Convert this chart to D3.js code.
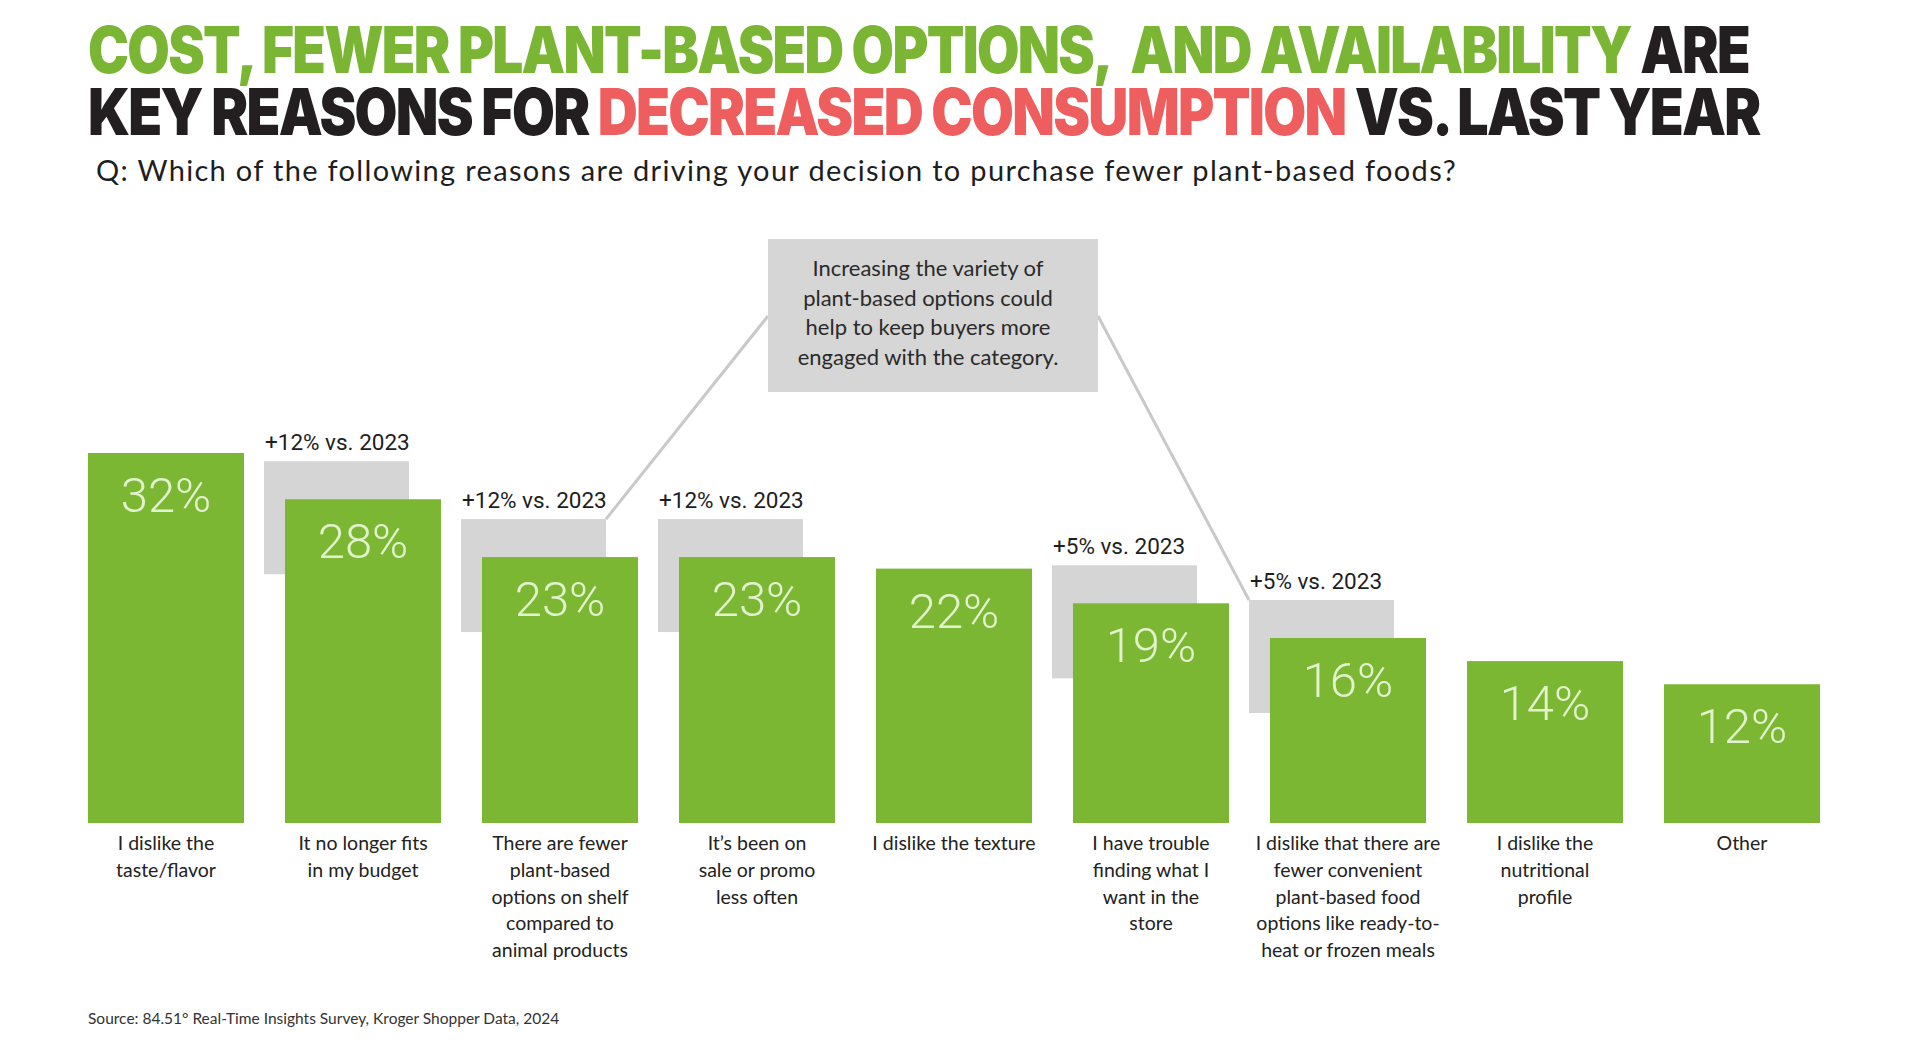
<!DOCTYPE html>
<html>
<head>
<meta charset="utf-8">
<script src="https://cdn.jsdelivr.net/npm/d3@7"></script>
<style>
  html, body { margin: 0; padding: 0; background: #ffffff; }
  svg { display: block; }
</style>
</head>
<body>
<svg id="chart" width="1920" height="1058"></svg>
<script>
// ---------- DATA ----------
const categories = [
  ["I dislike the", "taste/flavor"],
  ["It no longer fits", "in my budget"],
  ["There are fewer", "plant-based", "options on shelf", "compared to", "animal products"],
  ["It\u2019s been on", "sale or promo", "less often"],
  ["I dislike the texture"],
  ["I have trouble", "finding what I", "want in the", "store"],
  ["I dislike that there are", "fewer convenient", "plant-based food", "options like ready-to-", "heat or frozen meals"],
  ["I dislike the", "nutritional", "profile"],
  ["Other"]
];
const values = [32, 28, 23, 23, 22, 19, 16, 14, 12];
const changeLabels = [null, "+12% vs. 2023", "+12% vs. 2023", "+12% vs. 2023", null, "+5% vs. 2023", "+5% vs. 2023", null, null];
const titleLine1 = [
  {t: "COST, FEWER PLANT-BASED OPTIONS,\u00a0 AND AVAILABILITY", c: "green"},
  {t: " ARE", c: "dark"}
];
const titleLine2 = [
  {t: "KEY REASONS FOR ", c: "dark"},
  {t: "DECREASED CONSUMPTION", c: "red"},
  {t: " VS. LAST YEAR", c: "dark"}
];
const subtitle = "Q: Which of the following reasons are driving your decision to purchase fewer plant-based foods?";
const calloutLines = ["Increasing the variety of", "plant-based options could", "help to keep buyers more", "engaged with the category."];
const calloutFrom = 2;  // bar index linked on the left
const calloutTo = 6;    // bar index linked on the right
const source = "Source: 84.51\u00b0 Real-Time Insights Survey, Kroger Shopper Data, 2024";

// ---------- STYLE ----------
const colors = { green: "#7ab534", dark: "#231f20", red: "#ef5e5e", bar: "#7cb734", shadow: "#d5d5d5", pct: "#e2f2cc", line: "#c9c9c9" };

const svg = d3.select("#chart");
const idx = d3.range(values.length);

const x = d3.scaleBand().domain(idx).range([88, 1820]).paddingInner(0.208).paddingOuter(0);
const y = d3.scaleLinear().domain([0, 32]).range([823, 453]);

// ---------- TITLE ----------
function fitScale(sel, target) {
  const w = sel.node().getComputedTextLength();
  const x0 = +sel.attr("x");
  sel.attr("transform", `translate(${x0},0) scale(${target / w},1) translate(${-x0},0)`);
}
function fitSpacing(sel, target) {
  const n = sel.text().length;
  const w = sel.node().getComputedTextLength();
  sel.attr("letter-spacing", (target - w) / n);
}
function titleLine(parts, yPos, target) {
  const t = svg.append("text").attr("x", 88).attr("y", yPos)
    .attr("font-family", "Inter, 'DejaVu Sans', sans-serif")
    .attr("font-weight", 900).attr("font-size", 64).attr("letter-spacing", -2);
  t.selectAll("tspan").data(parts).join("tspan")
    .attr("fill", d => colors[d.c]).text(d => d.t);
  fitScale(t, target);
}
titleLine(titleLine1, 73, 1661);
titleLine(titleLine2, 135, 1672);

const sub = svg.append("text").attr("x", 96).attr("y", 181)
  .attr("font-family", "Lato, 'Open Sans', sans-serif").attr("font-size", 29)
  .attr("fill", "#1e1e1e").text(subtitle);
fitSpacing(sub, 1361);

// ---------- SHADOW BOXES + CHANGE LABELS ----------
const shadowDX = -21, shadowW = 145, shadowDY = -38, shadowH = 113;
const withChange = idx.filter(i => changeLabels[i]);

svg.append("g").selectAll("rect").data(withChange).join("rect")
  .attr("x", i => x(i) + shadowDX)
  .attr("y", i => y(values[i]) + shadowDY)
  .attr("width", shadowW).attr("height", shadowH)
  .attr("fill", colors.shadow);

svg.append("g").selectAll("text").data(withChange).join("text")
  .attr("x", i => x(i) + shadowDX + 1)
  .attr("y", i => y(values[i]) + shadowDY - 11)
  .attr("font-family", "Roboto, 'Liberation Sans', sans-serif")
  .attr("font-size", 22.5).attr("fill", "#1e1e1e")
  .text(i => changeLabels[i]);

// ---------- CALLOUT ----------
const box = { x: 768, y: 239, w: 330, h: 153 };
const lineY = 316;
svg.append("line")
  .attr("x1", box.x).attr("y1", lineY)
  .attr("x2", x(calloutFrom) + shadowDX + shadowW).attr("y2", y(values[calloutFrom]) + shadowDY)
  .attr("stroke", colors.line).attr("stroke-width", 3);
svg.append("line")
  .attr("x1", box.x + box.w).attr("y1", lineY)
  .attr("x2", x(calloutTo) + shadowDX).attr("y2", y(values[calloutTo]) + shadowDY)
  .attr("stroke", colors.line).attr("stroke-width", 3);
svg.append("rect").attr("x", box.x).attr("y", box.y).attr("width", box.w).attr("height", box.h)
  .attr("fill", "#d6d6d6");
svg.append("text").attr("text-anchor", "middle")
  .attr("font-family", "Lato, 'Open Sans', sans-serif").attr("font-size", 22).attr("fill", "#2a2a2a")
  .selectAll("tspan").data(calloutLines).join("tspan")
  .attr("x", box.x + box.w / 2 - 5).attr("y", (d, i) => 276 + i * 29.5).text(d => d);

// ---------- BARS ----------
svg.append("g").selectAll("rect").data(idx).join("rect")
  .attr("x", i => x(i)).attr("y", i => y(values[i]))
  .attr("width", x.bandwidth()).attr("height", i => y(0) - y(values[i]))
  .attr("fill", colors.bar);

svg.append("g").selectAll("text").data(idx).join("text")
  .attr("x", i => x(i) + x.bandwidth() / 2)
  .attr("y", i => y(values[i]) + 59)
  .attr("text-anchor", "middle")
  .attr("font-family", "Roboto, 'Liberation Sans', sans-serif").attr("font-weight", 300)
  .attr("font-size", 49).attr("fill", colors.pct)
  .text(i => values[i] + "%");

// ---------- CATEGORY LABELS ----------
const labG = svg.append("g")
  .attr("font-family", "Lato, 'Open Sans', sans-serif").attr("font-size", 19.5)
  .attr("fill", "#222").attr("text-anchor", "middle");
idx.forEach(i => {
  labG.append("text").selectAll("tspan").data(categories[i]).join("tspan")
    .attr("x", x(i) + x.bandwidth() / 2)
    .attr("y", (d, k) => 850 + k * 26.8)
    .text(d => d);
});

// ---------- SOURCE ----------
svg.append("text").attr("x", 88).attr("y", 1024)
  .attr("font-family", "Lato, 'Open Sans', sans-serif").attr("font-size", 15.5)
  .attr("fill", "#333").text(source);
</script>
</body>
</html>
